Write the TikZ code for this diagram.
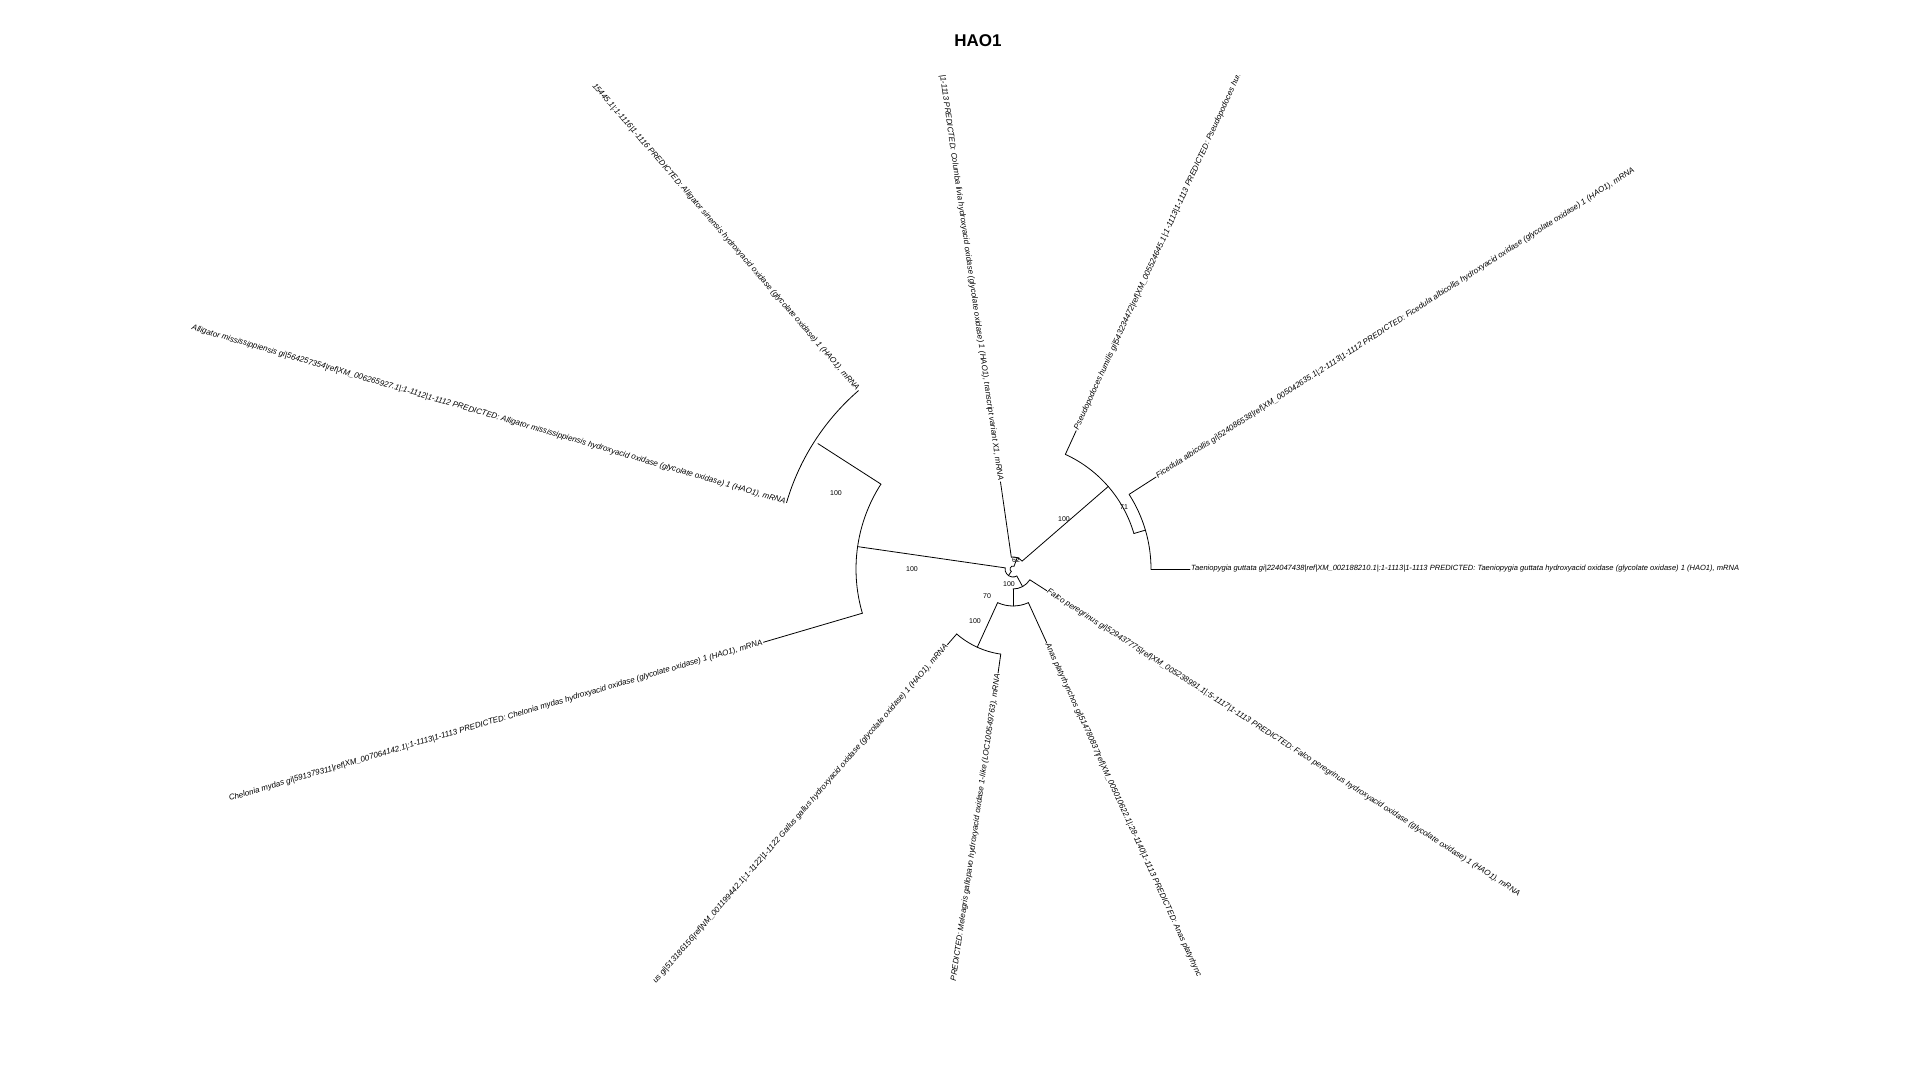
\documentclass[tikz,border=0pt]{standalone}
\usepackage{fontspec}
\setmainfont{Liberation Sans}
\tikzset{
  branch/.style={line width=0.8pt, line cap=round},
  tiplab/.style={font=\fontsize{8}{9}\selectfont\itshape, inner sep=1pt},
  bootlab/.style={font=\fontsize{7}{8}\selectfont, inner sep=0pt}
}
\begin{document}
\begin{tikzpicture}[x=1pt, y=1pt]
  \useasboundingbox (0,0) rectangle (1920,1080);
  % Title
  \node[font=\fontsize{17}{20}\selectfont\bfseries] (title) at (978,1039) {HAO1};
  \begin{scope}[shift={(1013,511)}]
    % Tips
    \coordinate (tae) at (0:177);
    \coordinate (fic) at (32.73:170);
    \coordinate (pse) at (65.45:152);
    \coordinate (col) at (98.18:88);
    \coordinate (asi) at (130.91:236);
    \coordinate (ami) at (163.64:236);
    \coordinate (che) at (196.36:260);
    \coordinate (gal) at (229.09:100);
    \coordinate (mel) at (261.82:105);
    \coordinate (ana) at (294.55:81);
    \coordinate (fal) at (327.27:40);
    % Inner nodes
    \coordinate (n71) at (16.36:138);
    \coordinate (np) at (40.9:126);
    \coordinate (n62) at (69.5:12);
    \coordinate (nal) at (147.27:232);
    \coordinate (nac) at (171.8:157);
    \coordinate (ngm) at (245.45:86);
    \coordinate (nl1) at (270:37);
    \coordinate (nl2) at (298.6:20);
    \coordinate (nq) at (235.2:8);
    % Ficedula + Taeniopygia
    \draw[branch] (0:138) arc[start angle=0, end angle=32.73, radius=138];
    \draw[branch] (0:138) -- (tae);
    \draw[branch] (32.73:138) -- (fic);
    % Pseudopodoces + (71)
    \draw[branch] (16.36:126) arc[start angle=16.36, end angle=65.45, radius=126];
    \draw[branch] (16.36:126) -- (n71);
    \draw[branch] (65.45:126) -- (pse);
    % Columba + (100)
    \draw[branch] (40.9:12) arc[start angle=40.9, end angle=98.18, radius=12];
    \draw[branch] (40.9:12) -- (np);
    \draw[branch] (98.18:12) -- (col);
    % Alligators
    \draw[branch] (asi) arc[start angle=130.91, end angle=163.64, radius=236];
    % Alligators + Chelonia
    \draw[branch] (147.27:157) arc[start angle=147.27, end angle=196.36, radius=157];
    \draw[branch] (147.27:157) -- (nal);
    \draw[branch] (196.36:157) -- (che);
    % Gallus + Meleagris
    \draw[branch] (229.09:86) arc[start angle=229.09, end angle=261.82, radius=86];
    \draw[branch] (229.09:86) -- (gal);
    \draw[branch] (261.82:86) -- (mel);
    % + Anas
    \draw[branch] (245.45:37) arc[start angle=245.45, end angle=294.55, radius=37];
    \draw[branch] (245.45:37) -- (ngm);
    \draw[branch] (294.55:37) -- (ana);
    % + Falco
    \draw[branch] (270:20) arc[start angle=270, end angle=327.27, radius=20];
    \draw[branch] (270:20) -- (nl1);
    \draw[branch] (327.27:20) -- (fal);
    % Root part
    \draw[branch] (171.8:8) arc[start angle=171.8, end angle=298.6, radius=8];
    \draw[branch] (171.8:8) -- (nac);
    \draw[branch] (298.6:8) -- (nl2);
    \draw[branch] (69.5:3) arc[start angle=69.5, end angle=235.2, radius=3];
    \draw[branch] (69.5:3) -- (n62);
    \draw[branch] (235.2:3) -- (nq);
  \end{scope}
  % Tip labels
  \begin{scope}
    \clip (0,98) rectangle (1920,1004);
    \node[tiplab, font=\fontsize{7.55}{9}\selectfont\itshape, anchor=west, rotate=0] (taeLab) at (tae) {Taeniopygia guttata gi|224047438|ref|XM\_002188210.1|:1-1113|1-1113 PREDICTED: Taeniopygia guttata hydroxyacid oxidase (glycolate oxidase) 1 (HAO1), mRNA};
    \node[tiplab, anchor=west, rotate=32.73] (ficLab) at (fic) {Ficedula albicollis gi|524086538|ref|XM\_005042635.1|:2-1113|1-1112 PREDICTED: Ficedula albicollis hydroxyacid oxidase (glycolate oxidase) 1 (HAO1), mRNA};
    \node[tiplab, anchor=west, rotate=65.45] (pseLab) at (pse) {Pseudopodoces humilis gi|543234472|ref|XM\_005524645.1|:1-1113|1-1113 PREDICTED: Pseudopodoces humili};
    \node[tiplab, anchor=east, rotate=-81.82] (colLab) at (col) {1|1-1113 PREDICTED: Columba livia hydroxyacid oxidase (glycolate oxidase) 1 (HAO1), transcript variant X1, mRNA};
    \node[tiplab, anchor=east, rotate=-49.09] (asiLab) at (asi) {15445.1|:1-1116|1-1116 PREDICTED: Alligator sinensis hydroxyacid oxidase (glycolate oxidase) 1 (HAO1), mRNA};
    \node[tiplab, anchor=east, rotate=-16.36] (amiLab) at (ami) {Alligator mississippiensis gi|564257354|ref|XM\_006265927.1|:1-1112|1-1112 PREDICTED: Alligator mississippiensis hydroxyacid oxidase (glycolate oxidase) 1 (HAO1), mRNA};
    \node[tiplab, anchor=east, rotate=16.36] (cheLab) at (che) {Chelonia mydas gi|591379311|ref|XM\_007064142.1|:1-1113|1-1113 PREDICTED: Chelonia mydas hydroxyacid oxidase (glycolate oxidase) 1 (HAO1), mRNA};
    \node[tiplab, anchor=east, rotate=49.09] (galLab) at (gal) {us gi|513186156|ref|NM\_001199442.1|:1-1122|1-1122 Gallus gallus hydroxyacid oxidase (glycolate oxidase) 1 (HAO1), mRNA};
    \node[tiplab, anchor=east, rotate=81.82] (melLab) at (mel) {PREDICTED: Meleagris gallopavo hydroxyacid oxidase 1-like (LOC100549763), mRNA};
    \node[tiplab, anchor=west, rotate=-65.45] (anaLab) at (ana) {Anas platyrhynchos gi|514780837|ref|XM\_005010622.1|:28-1140|1-1113 PREDICTED: Anas platyrhync};
    \node[tiplab, anchor=west, rotate=-32.73] (falLab) at (fal) {Falco peregrinus gi|529437775|ref|XM\_005238991.1|:5-1117|1-1113 PREDICTED: Falco peregrinus hydroxyacid oxidase (glycolate oxidase) 1 (HAO1), mRNA};
  \end{scope}
  % Bootstrap values
  \node[bootlab] (bAl) at (836,587) {100};
  \node[bootlab] (bAc) at (912,511) {100};
  \node[bootlab] (bP) at (1064,561) {100};
  \node[bootlab] (b71) at (1124,573) {71};
  \node[bootlab] (b62) at (1016,520) {62};
  \node[bootlab] (bL2) at (1009,496) {100};
  \node[bootlab] (bL1) at (987,484) {70};
  \node[bootlab] (bGm) at (975,459) {100};
\end{tikzpicture}
\end{document}
